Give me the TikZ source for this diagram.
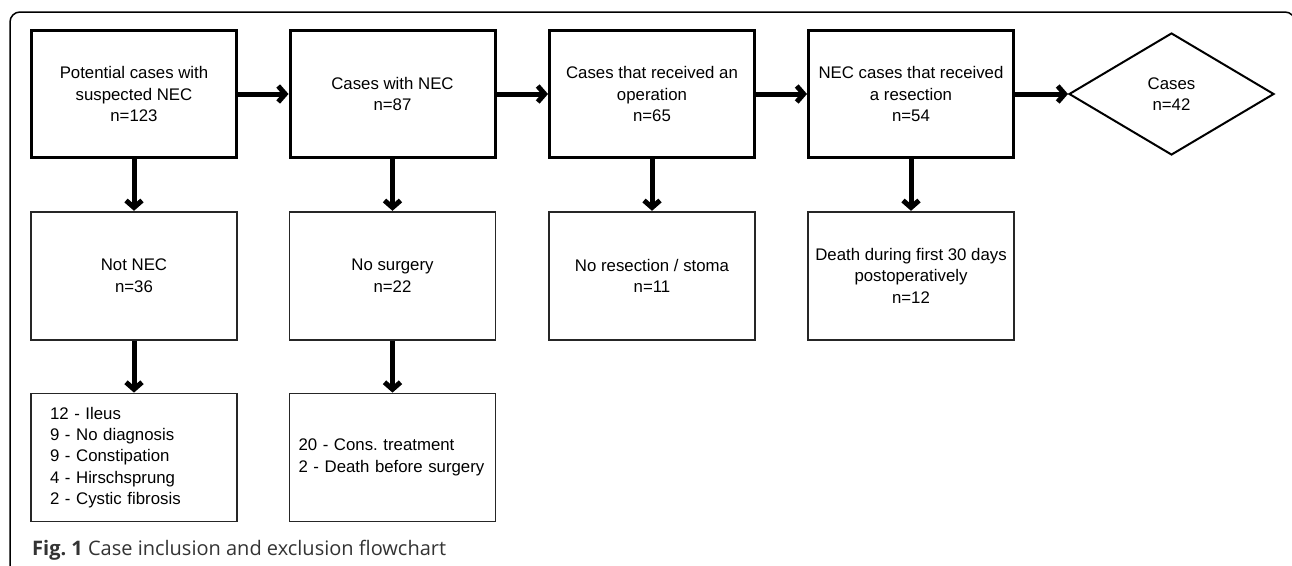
\documentclass[tikz,border=0pt]{standalone}
\usepackage{fontspec}
\setmainfont{Liberation Sans}
\newfontfamily\capfont{Open Sans}
\usetikzlibrary{arrows.meta, shapes.geometric}
\frenchspacing

\begin{document}
\begin{tikzpicture}[x=1pt, y=-1pt, >={Straight Barb[length=7pt, width=16pt]},
  every node/.style={font=\fontsize{16.8}{21.3}\selectfont},
  stagebox/.style={draw, line width=3pt, minimum width=205pt, minimum height=127pt, align=center, inner sep=0pt},
  outbox/.style={draw=black!85, line width=1.8pt, minimum width=206pt, minimum height=128pt, align=center, inner sep=0pt},
  flow/.style={->, line width=5pt}]
\useasboundingbox (0,0) rectangle (1292,565);
\draw[line width=1.5pt, rounded corners=10pt] (10,590) -- (10,12) -- (1295,12) -- (1295,590);
% main line
\node[stagebox] (p1) at (134,94) {Potential cases with\\suspected NEC\\n=123};
\node[stagebox] (p2) at (392.5,94) {Cases with NEC\\n=87};
\node[stagebox] (p3) at (652,94) {Cases that received an\\operation\\n=65};
\node[stagebox] (p4) at (911,94) {NEC cases that received\\a resection\\n=54};
\node[diamond, draw, line width=2pt, minimum width=205pt, minimum height=122pt, inner sep=0pt, align=center] (f) at (1171.5,94) {Cases\\n=42};
% exclusions
\node[outbox] (x1) at (134,275.7) {Not NEC\\n=36};
\node[outbox] (x2) at (392.5,275.7) {No surgery\\n=22};
\node[outbox] (x3) at (652,275.7) {No resection / stoma\\n=11};
\node[outbox] (x4) at (911,275.7) {Death during first 30 days\\postoperatively\\n=12};
\node[outbox, align=left, text width=168pt, inner xsep=19pt] (d1) at (134,457.5) {12 - Ileus\\9 - No diagnosis\\9 - Constipation\\4 - Hirschsprung\\2 - Cystic fibrosis};
\node[outbox, align=left, text width=188pt, inner xsep=9pt] (d2) at (392.5,457.5) {20 - Cons. treatment\\2 - Death before surgery};
\draw[flow] (p1) -- (p2);
\draw[flow] (p2) -- (p3);
\draw[flow] (p3) -- (p4);
\draw[flow] (p4) -- (f);
\draw[flow] (p1) -- (x1);
\draw[flow] (p2) -- (x2);
\draw[flow] (p3) -- (x3);
\draw[flow] (p4) -- (x4);
\draw[flow] (x1) -- (d1);
\draw[flow] (x2) -- (d2);
\node[anchor=base west, inner sep=0pt, text=black!80, font=\capfont\fontsize{20}{23}\selectfont] (cap) at (32,555.7) {\textbf{Fig. 1} Case inclusion and exclusion flowchart};
\end{tikzpicture}
\end{document}
